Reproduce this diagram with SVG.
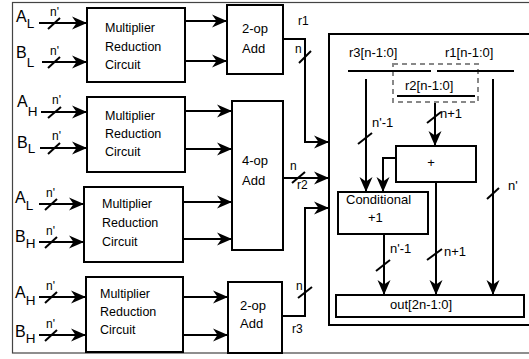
<svg xmlns="http://www.w3.org/2000/svg" width="529" height="359" viewBox="0 0 529 359">
<defs>
<marker id="ah" markerUnits="userSpaceOnUse" viewBox="-16 -8 17 16" refX="0" refY="0" markerWidth="17" markerHeight="16" orient="auto">
<path d="M0,0 L-15,-6.5 L-10.5,0 L-15,6.5 Z" fill="#000"/>
</marker>
</defs>
<style>
.box{fill:#fff;stroke:#000;stroke-width:2}
.ln{fill:none;stroke:#000;stroke-width:2}
.ar{fill:none;stroke:#000;stroke-width:2;marker-end:url(#ah)}
.sl{stroke:#000;stroke-width:2}
text{font-family:"Liberation Sans",Arial,sans-serif;fill:#000}
.big{font-size:16px}
.sub{font-size:13.5px}
.t{font-size:12.5px}
.s{font-size:12px}
.b{font-size:13px}
</style>
<rect x="12.5" y="2.5" width="530" height="350.5" fill="none" stroke="#444" stroke-width="1.2"/>

<g id="inputs">
<text class="big" x="16" y="22">A<tspan class="sub" dy="6">L</tspan></text>
<text class="big" x="16" y="58">B<tspan class="sub" dy="9">L</tspan></text>
<text class="big" x="17" y="107">A<tspan class="sub" dy="9">H</tspan></text>
<text class="big" x="17" y="148">B<tspan class="sub" dy="5">L</tspan></text>
<text class="big" x="15" y="203">A<tspan class="sub" dy="7">L</tspan></text>
<text class="big" x="15" y="242">B<tspan class="sub" dy="6">H</tspan></text>
<text class="big" x="15" y="298">A<tspan class="sub" dy="7">H</tspan></text>
<text class="big" x="15" y="337">B<tspan class="sub" dy="6">H</tspan></text>
<text class="s" x="50" y="16">n'</text>
<text class="s" x="50" y="55">n'</text>
<text class="s" x="52" y="104">n'</text>
<text class="s" x="52" y="140">n'</text>
<text class="s" x="46" y="197">n'</text>
<text class="s" x="46" y="235">n'</text>
<text class="s" x="46" y="290">n'</text>
<text class="s" x="46" y="328">n'</text>
</g>

<g id="mrc1"><rect class="box" x="87" y="8" width="98" height="74"/>
<text class="t" x="105" y="32">Multiplier</text><text class="t" x="105" y="51">Reduction</text><text class="t" x="105" y="69">Circuit</text></g>
<g id="mrc2"><rect class="box" x="87" y="97" width="98" height="75"/>
<text class="t" x="105" y="120">Multiplier</text><text class="t" x="105" y="138">Reduction</text><text class="t" x="105" y="156">Circuit</text></g>
<g id="mrc3"><rect class="box" x="84" y="187" width="99" height="75"/>
<text class="t" x="102" y="208">Multiplier</text><text class="t" x="102" y="227">Reduction</text><text class="t" x="102" y="246">Circuit</text></g>
<g id="mrc4"><rect class="box" x="86" y="277" width="97" height="75"/>
<text class="t" x="100" y="298">Multiplier</text><text class="t" x="100" y="316">Reduction</text><text class="t" x="100" y="334">Circuit</text></g>

<g id="add2a"><rect class="box" x="227" y="5" width="56" height="69"/>
<text class="b" x="242" y="33">2-op</text><text class="b" x="242" y="53">Add</text></g>
<g id="add4"><rect class="box" x="232" y="101" width="51" height="149"/>
<text class="b" x="242" y="165">4-op</text><text class="b" x="242" y="185">Add</text></g>
<g id="add2b"><rect class="box" x="228" y="282" width="54" height="71"/>
<text class="b" x="240" y="310">2-op</text><text class="b" x="240" y="328">Add</text></g>

<g id="final">
<rect class="box" x="329" y="34" width="215" height="291"/>
<text class="b" x="349" y="57">r3[n-1:0]</text>
<text class="b" x="445" y="57">r1[n-1:0]</text>
<rect x="393" y="64" width="85" height="38" fill="none" stroke="#888" stroke-width="2" stroke-dasharray="5,4"/>
<text class="b" x="405" y="90">r2[n-1:0]</text>
</g>
<g id="plus"><rect class="box" x="396" y="146" width="80" height="36"/>
<text class="b" x="431" y="167" text-anchor="middle">+</text></g>
<g id="cond"><rect class="box" x="338" y="192" width="90" height="42"/>
<text class="b" x="346" y="204">Conditional</text><text class="b" x="368" y="222">+1</text></g>
<g id="out"><rect class="box" x="336" y="295" width="188" height="22"/>
<text class="b" x="390" y="309">out[2n-1:0]</text></g>

<g id="connectors">
<line class="ar" x1="39" y1="23" x2="87" y2="23"/>
<line class="ar" x1="42" y1="62" x2="87" y2="62"/>
<line class="ar" x1="41" y1="112" x2="87" y2="112"/>
<line class="ar" x1="40" y1="148" x2="87" y2="148"/>
<line class="ar" x1="39" y1="204" x2="84" y2="204"/>
<line class="ar" x1="39" y1="242" x2="84" y2="242"/>
<line class="ar" x1="39" y1="297" x2="86" y2="297"/>
<line class="ar" x1="39" y1="335" x2="86" y2="335"/>
<line class="sl" x1="48" y1="29" x2="60" y2="18"/>
<line class="sl" x1="48" y1="68" x2="60" y2="57"/>
<line class="sl" x1="48" y1="118" x2="61" y2="107"/>
<line class="sl" x1="48" y1="154" x2="60" y2="143"/>
<line class="sl" x1="45" y1="210" x2="57" y2="199"/>
<line class="sl" x1="45" y1="248" x2="57" y2="237"/>
<line class="sl" x1="45" y1="303" x2="57" y2="292"/>
<line class="sl" x1="45" y1="341" x2="57" y2="330"/>

<line class="ar" x1="185" y1="21" x2="227" y2="21"/>
<line class="ar" x1="185" y1="61" x2="227" y2="61"/>
<line class="ar" x1="185" y1="111" x2="232" y2="111"/>
<line class="ar" x1="185" y1="149" x2="232" y2="149"/>
<line class="ar" x1="183" y1="202" x2="232" y2="202"/>
<line class="ar" x1="183" y1="239" x2="232" y2="239"/>
<line class="ar" x1="183" y1="297" x2="228" y2="297"/>
<line class="ar" x1="183" y1="335" x2="228" y2="335"/>

<polyline class="ar" points="283,39 305,39 305,142 329,142"/>
<line class="sl" x1="299" y1="63" x2="311" y2="51"/>
<text class="s" x="295" y="53">n</text>
<text class="s" x="298" y="25">r1</text>
<line class="ar" x1="283" y1="178" x2="329" y2="178"/>
<line class="sl" x1="292" y1="183" x2="305" y2="172"/>
<text class="s" x="290" y="170">n</text>
<text class="s" x="297" y="189">r2</text>
<polyline class="ar" points="282,316 305,316 305,208 329,208"/>
<line class="sl" x1="298" y1="298" x2="312" y2="287"/>
<text class="s" x="296" y="290">n</text>
<text class="s" x="292" y="333">r3</text>

<line class="ln" x1="348" y1="71" x2="431" y2="71"/>
<line class="ln" x1="437" y1="71" x2="514" y2="71"/>
<line class="ln" x1="397" y1="96" x2="475" y2="96"/>
<line class="ar" x1="366" y1="79" x2="366" y2="192"/>
<line class="sl" x1="358" y1="144" x2="372" y2="133"/>
<text class="b" x="372" y="127">n'-1</text>
<line class="ar" x1="435" y1="103" x2="435" y2="146"/>
<line class="sl" x1="427" y1="123" x2="441" y2="112"/>
<text class="b" x="440" y="118">n+1</text>
<line class="ar" x1="493" y1="79" x2="493" y2="295"/>
<line class="sl" x1="487" y1="199" x2="499" y2="188"/>
<text class="b" x="508" y="190">n'</text>
<polyline class="ar" points="396,158 383,158 383,192"/>
<line class="ar" x1="384" y1="234" x2="384" y2="295"/>
<line class="sl" x1="376" y1="271" x2="390" y2="260"/>
<text class="b" x="390" y="253">n'-1</text>
<line class="ar" x1="436" y1="182" x2="436" y2="295"/>
<line class="sl" x1="427" y1="260" x2="442" y2="249"/>
<text class="b" x="444" y="256">n+1</text>
</g>
</svg>
